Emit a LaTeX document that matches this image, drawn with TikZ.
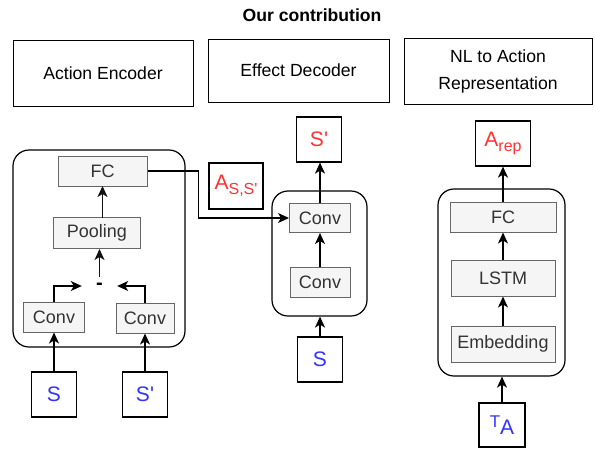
\documentclass[tikz,border=0pt]{standalone}
\usepackage{fontspec}
\setmainfont{Liberation Sans}
\usepackage[HTML]{xcolor}
\usetikzlibrary{arrows.meta}

\definecolor{layerfill}{HTML}{F5F5F5}
\definecolor{layerline}{HTML}{666666}
\definecolor{layertext}{HTML}{333333}
\definecolor{outred}{HTML}{FF3333}
\definecolor{inblue}{HTML}{3333FF}
\definecolor{darkline}{HTML}{111111}

\tikzset{
  titlebox/.style={draw=black, line width=1pt, align=center, inner sep=0pt,
    font=\fontsize{17.6}{27}\selectfont},
  layer/.style={draw=layerline, fill=layerfill, line width=1pt, inner sep=0pt,
    text=layertext, font=\fontsize{18}{20}\selectfont},
  statebox/.style={draw=black, line width=1.2pt, minimum width=45pt, minimum height=45pt,
    inner sep=0pt, font=\fontsize{21}{21}\selectfont},
  group/.style={draw=black, line width=1.2pt, rounded corners=16pt, inner sep=0pt},
  flow/.style={-{Stealth[length=11pt,width=10pt,inset=3pt]}, line width=1.3pt}
}

\newcommand{\subtxt}[1]{\raisebox{-5pt}{\fontsize{16}{16}\selectfont #1}}
\newcommand{\prm}{\textquotesingle}

\begin{document}
\begin{tikzpicture}[x=1pt,y=-1pt]
\useasboundingbox (0,0) rectangle (595,448);

% headings
\node[font=\bfseries\fontsize{17.6}{20}\selectfont] (title) at (312,15) {Our contribution};
\node[titlebox, minimum width=180pt, minimum height=66pt] (enc) at (103,73) {Action Encoder};
\node[titlebox, minimum width=181pt, minimum height=63pt] (dec) at (298.5,70.5) {Effect Decoder};
\node[titlebox, minimum width=188pt, minimum height=66pt] (nl) at (498,71) {NL to Action\\Representation};

% containers
\node[group, minimum width=172pt, minimum height=197pt] (grpL) at (99,248.5) {};
\node[group, minimum width=95pt, minimum height=125pt] (grpM) at (319.5,253.5) {};
\node[group, minimum width=127pt, minimum height=187pt] (grpR) at (501.5,282.5) {};

% action encoder
\node[layer, minimum width=89pt, minimum height=30pt] (fcenc) at (102.5,171) {FC};
\node[layer, minimum width=87pt, minimum height=31pt] (pooling) at (97,233) {Pooling};
\node[inner sep=0pt, minimum width=35pt, minimum height=18pt,
  font=\bfseries\fontsize{20}{20}\selectfont] (diffop) at (99.5,286) {\raisebox{-2pt}{-}};
\node[layer, minimum width=61pt, minimum height=30pt] (convA) at (54,317) {Conv};
\node[layer, minimum width=58pt, minimum height=30pt] (convB) at (145,318) {Conv};
\node[statebox, text=inblue] (sA) at (54,394.5) {S};
\node[statebox, text=inblue] (sB) at (145,394.5) {S\prm};
\coordinate (poolTop) at (102.5,217.5);

\draw[flow] (sA) -- (convA);
\draw[flow] (sB) -- (convB);
\draw[flow] (convA.north) |- (diffop.west);
\draw[flow] (convB.north) |- (diffop.east);
\draw[flow, darkline] (diffop.north) -- (diffop.north |- pooling.south);
\draw[flow, darkline] (poolTop) -- ++(0,-31.5);

% effect decoder
\node[statebox, text=outred, minimum width=54pt, minimum height=46pt] (act) at (236,186) {A\subtxt{S,S\prm}};
\node[layer, minimum width=61pt, minimum height=29pt] (convT) at (320,218) {Conv};
\node[layer, minimum width=60pt, minimum height=30pt] (convU) at (320,282) {Conv};
\node[statebox, text=outred] (sOut) at (319,139.5) {S\prm};
\node[statebox, text=inblue] (sIn) at (320,359.5) {S};

\draw[flow] (fcenc.east) -- ++(51,0) |- (convT.west);
\draw[flow] (sIn.north) -- (sIn.north |- grpM.south);
\draw[flow] (convU) -- (convT);
\draw[flow] (convT.north) -- (convT.north |- sOut.south);

% NL to action representation
\node[statebox, text=outred, minimum width=55pt] (arep) at (503,143.5) {A\subtxt{rep}};
\node[layer, minimum width=106pt, minimum height=30pt] (fcR) at (503,217) {FC};
\node[layer, minimum width=104pt, minimum height=36pt] (lstm) at (503,278) {LSTM};
\node[layer, minimum width=104pt, minimum height=36pt] (emb) at (503,344) {Embedding};
\node[statebox, text=inblue, minimum width=46pt, minimum height=44pt] (ta) at (502,425)
  {\raisebox{4pt}{\fontsize{17}{17}\selectfont T}\raisebox{-3pt}{A}};

\draw[flow] (ta.north) -- (ta.north |- grpR.south);
\draw[flow] (emb) -- (lstm);
\draw[flow] (lstm) -- (fcR);
\draw[flow] (fcR) -- (arep);
\end{tikzpicture}
\end{document}
